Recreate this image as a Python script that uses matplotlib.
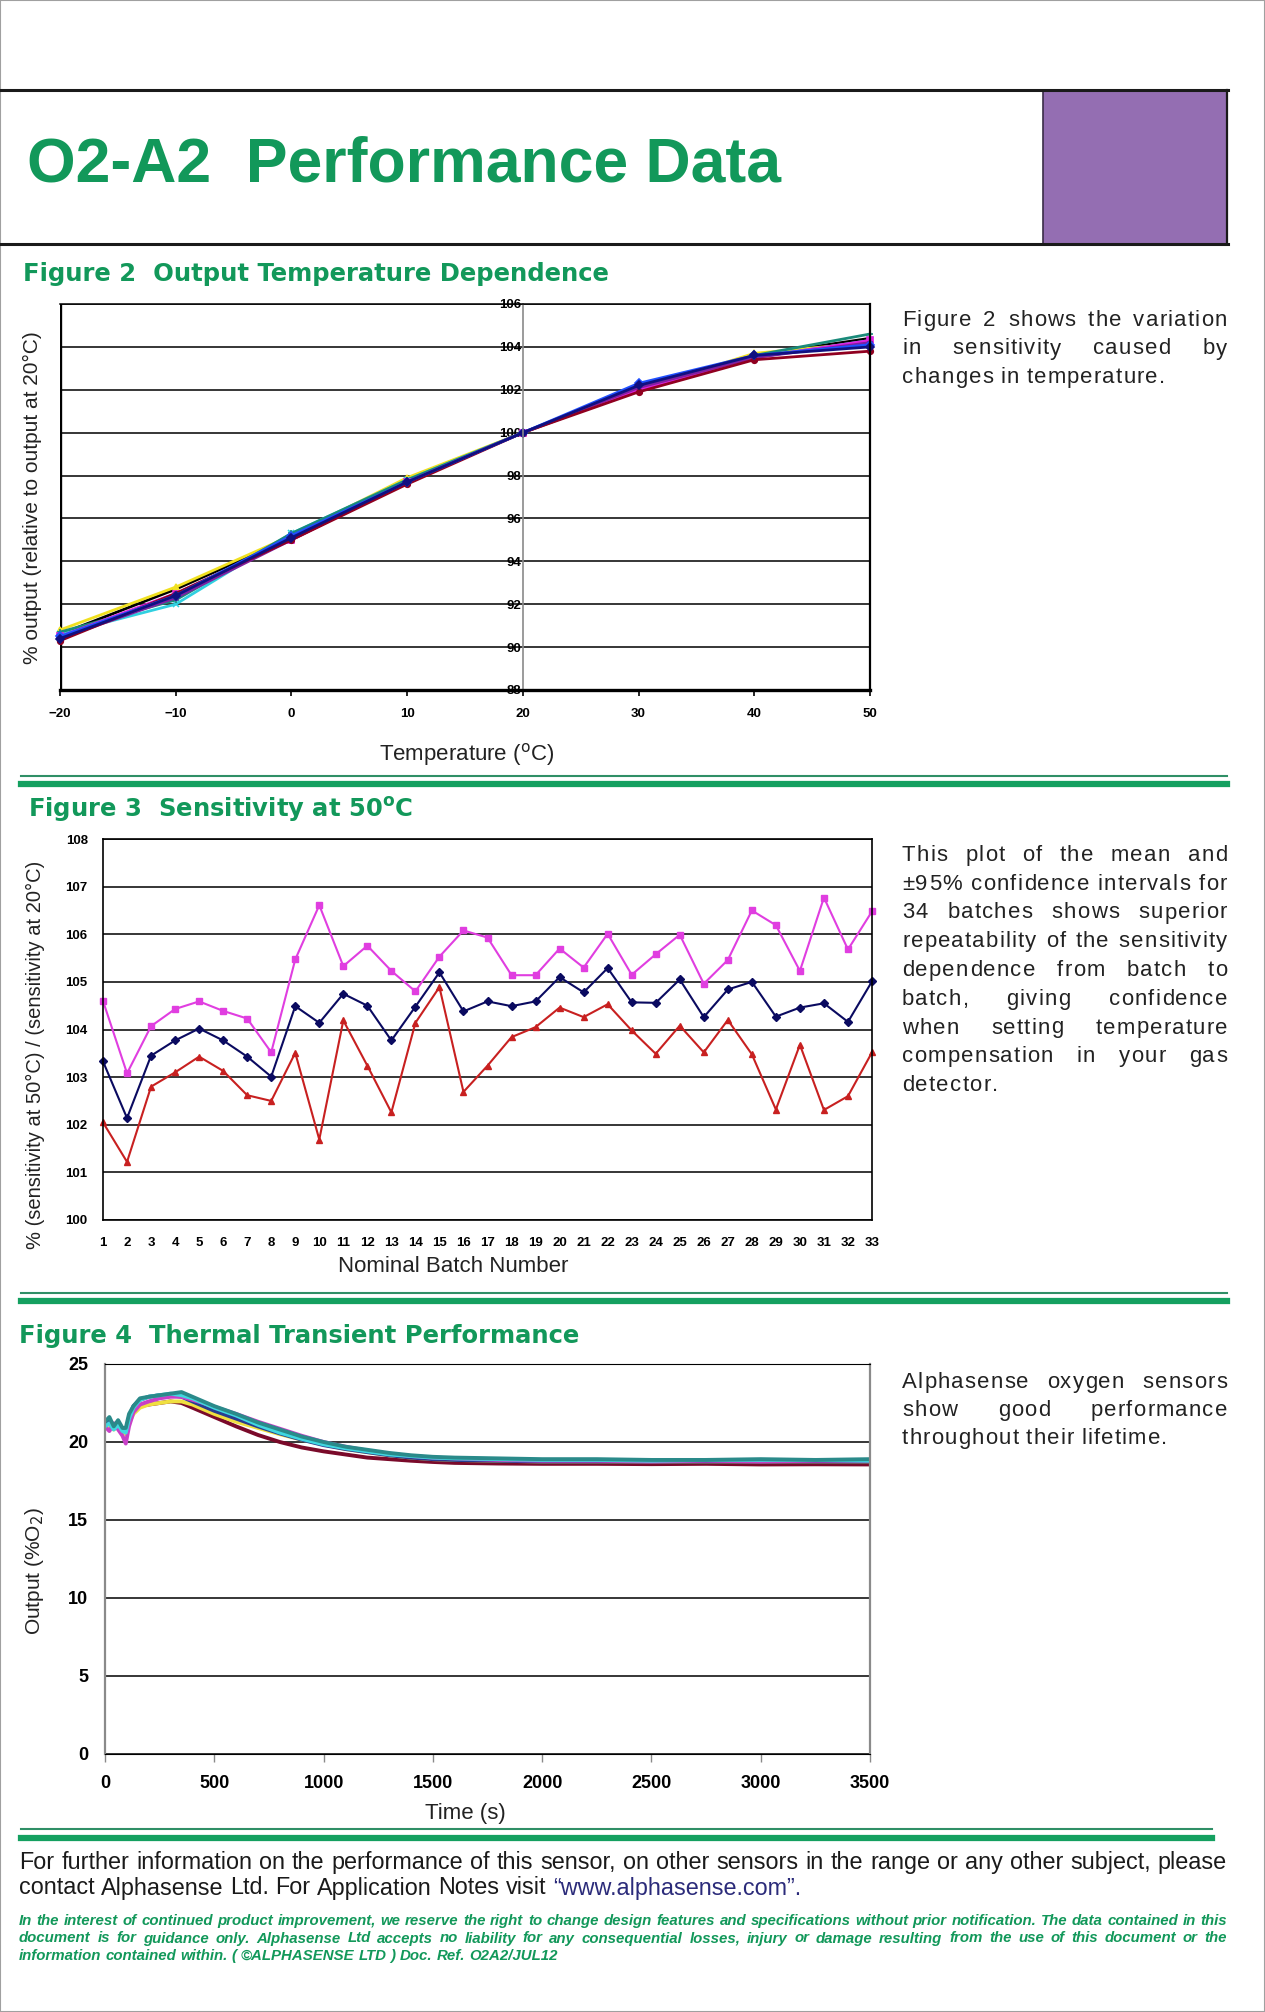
""" O2-A2 performance data sheet page """

import matplotlib
matplotlib.use("Agg")
import matplotlib.pyplot as plt
from matplotlib.font_manager import FontProperties
from matplotlib.lines import Line2D
from matplotlib.patches import Rectangle


#:::: Data
#:::::::::
# Figure 2: output vs temperature, one list per sensor
temps = [-20, -10, 0, 10, 20, 30, 40, 50]
out_black = [90.6, 92.7, 95.1, 97.8, 100, 102.1, 103.6, 104.4]
out_yellow = [90.8, 92.8, 95.2, 97.9, 100, 102.0, 103.7, 104.2]
out_cyan = [90.6, 92.0, 95.3, 97.8, 100, 102.2, 103.5, 104.3]
out_teal = [90.7, 92.2, 95.3, 97.8, 100, 102.0, 103.6, 104.6]
out_magenta = [90.5, 92.5, 95.0, 97.7, 100, 102.0, 103.5, 104.3]
out_purple = [90.4, 92.3, 95.0, 97.7, 100, 102.1, 103.5, 104.2]
out_red = [90.3, 92.5, 95.0, 97.6, 100, 101.9, 103.4, 103.8]
out_blue = [90.5, 92.4, 95.2, 97.7, 100, 102.3, 103.6, 104.1]
out_navy = [90.4, 92.4, 95.1, 97.7, 100, 102.2, 103.6, 104.0]

# Figure 3: sensitivity at 50C, mean and +-95% per batch
batches = list(range(1, 34))
sens_upper = [104.6, 103.08, 104.07, 104.43, 104.59, 104.39, 104.23, 103.52, 105.47, 106.61,
              105.33, 105.76, 105.23, 104.80, 105.53, 106.08, 105.93, 105.14, 105.14, 105.70,
              105.30, 106.01, 105.15, 105.58, 105.99, 104.96, 105.46, 106.50, 106.19, 105.23,
              106.77, 105.68, 106.48]
sens_mean = [103.33, 102.14, 103.45, 103.77, 104.02, 103.77, 103.43, 103.01, 104.49, 104.14,
             104.75, 104.50, 103.77, 104.48, 105.20, 104.38, 104.59, 104.49, 104.59, 105.10,
             104.78, 105.29, 104.57, 104.56, 105.05, 104.26, 104.84, 105.00, 104.27, 104.46,
             104.55, 104.16, 105.01]
sens_lower = [102.05, 101.22, 102.80, 103.10, 103.43, 103.13, 102.62, 102.50, 103.51, 101.69,
              104.19, 103.24, 102.26, 104.14, 104.89, 102.69, 103.24, 103.84, 104.05, 104.46,
              104.26, 104.53, 103.98, 103.49, 104.08, 103.52, 104.20, 103.48, 102.32, 103.68,
              102.31, 102.60, 103.52]

# Figure 4: thermal transient, one list per sensor
time_s = [0, 20, 40, 60, 80, 95, 110, 130, 160, 200, 250, 300, 350, 400, 450, 500, 600, 700,
          800, 900, 1000, 1100, 1200, 1300, 1400, 1500, 1600, 1800, 2000, 2250, 2500, 2750,
          3000, 3250, 3500]
o2_red = [21.0, 21.3, 20.9, 21.1, 20.7, 20.6, 21.3, 21.9, 22.3, 22.4, 22.5, 22.6, 22.5, 22.2,
          21.9, 21.6, 21.0, 20.45, 20.0, 19.65, 19.4, 19.2, 19.0, 18.9, 18.8, 18.72, 18.66,
          18.62, 18.6, 18.6, 18.58, 18.6, 18.56, 18.57, 18.56]
o2_yellow = [20.9, 21.1, 20.8, 21.0, 20.6, 20.5, 21.2, 21.8, 22.2, 22.4, 22.5, 22.6, 22.6, 22.4,
             22.1, 21.8, 21.3, 20.9, 20.5, 20.15, 19.85, 19.55, 19.35, 19.15, 19.0, 18.9, 18.85,
             18.8, 18.75, 18.75, 18.75, 18.75, 18.75, 18.75, 18.75]
o2_navy = [21.2, 21.4, 21.0, 21.2, 20.8, 20.7, 21.6, 22.3, 22.7, 22.9, 23.0, 23.0, 22.9, 22.6,
           22.3, 22.0, 21.5, 21.0, 20.55, 20.15, 19.8, 19.55, 19.35, 19.15, 19.0, 18.9, 18.85,
           18.8, 18.75, 18.75, 18.75, 18.75, 18.75, 18.75, 18.75]
o2_magenta = [21.0, 20.7, 21.2, 20.8, 20.4, 19.9, 21.0, 21.9, 22.4, 22.6, 22.8, 22.9, 22.9, 22.7,
              22.5, 22.25, 21.8, 21.3, 20.85, 20.4, 20.0, 19.7, 19.45, 19.25, 19.1, 19.0, 18.95,
              18.85, 18.8, 18.8, 18.75, 18.8, 18.75, 18.8, 18.8]
o2_cyan = [21.0, 21.2, 20.8, 21.1, 20.7, 20.6, 21.5, 22.2, 22.7, 22.9, 23.0, 23.1, 23.0, 22.8,
           22.5, 22.2, 21.7, 21.1, 20.6, 20.2, 19.85, 19.6, 19.4, 19.2, 19.1, 19.0, 18.95,
           18.9, 18.85, 18.85, 18.8, 18.85, 18.85, 18.85, 18.8]
o2_teal = [21.3, 21.6, 21.0, 21.4, 20.9, 20.9, 21.8, 22.3, 22.8, 22.9, 23.0, 23.1, 23.2, 22.9,
           22.6, 22.3, 21.8, 21.25, 20.8, 20.35, 20.0, 19.7, 19.5, 19.3, 19.15, 19.05, 19.0,
           18.95, 18.9, 18.9, 18.85, 18.85, 18.9, 18.85, 18.9]

fig2_ticks_y = list(range(88, 107, 2))
fig2_ticks_x = list(range(-20, 51, 10))
fig3_ticks_y = list(range(100, 109))
fig4_ticks_y = list(range(0, 26, 5))
fig4_ticks_x = list(range(0, 3501, 500))

title = "O2-A2  Performance Data"
fig2_text = ["Figure 2 shows the variation",
             "in sensitivity caused by",
             "changes in temperature."]
fig3_text = ["This plot of the mean and",
             "\u00b195% confidence intervals for",
             "34 batches shows superior",
             "repeatability of the sensitivity",
             "dependence from batch to",
             "batch, giving confidence",
             "when setting temperature",
             "compensation in your gas",
             "detector."]
fig4_text = ["Alphasense oxygen sensors",
             "show good performance",
             "throughout their lifetime."]
footer_text = ["For further information on the performance of this sensor, on other sensors in the range or any other subject, please",
               "contact Alphasense Ltd. For Application Notes visit \u201cwww.alphasense.com\u201d."]
disclaimer = ["In the interest of continued product improvement, we reserve the right to change design features and specifications without prior notification. The data contained in this",
              "document is for guidance only. Alphasense Ltd accepts no liability for any consequential losses, injury or damage resulting from the use of this document or the",
              "information contained within. ( \u00a9ALPHASENSE LTD ) Doc. Ref.  O2A2/JUL12"]


#:::: Page setup
#:::::::::::::::
W, H = 1265, 2012
GREEN = '#12985a'
SANS = ['Liberation Sans', 'DejaVu Sans']
plt.rcParams['font.family'] = SANS

fig = plt.figure(figsize=(W / 100, H / 100), dpi=100)
fig.patch.set_facecolor('white')
renderer = fig.canvas.get_renderer()


def fx(x):
    return x / W


def fy(y):
    return 1 - y / H


def rect(l, t, r, b):
    return [l / W, 1 - b / H, (r - l) / W, (b - t) / H]


def hline(x0, x1, y, lw, color):
    fig.add_artist(Line2D([fx(x0), fx(x1)], [fy(y), fy(y)], lw=lw, color=color))


def adv(s, prop):
    # advance width in pixels, measured between two bars
    bar = renderer.get_text_width_height_descent('||', prop, ismath=False)[0]
    w = renderer.get_text_width_height_descent('|' + s + '|', prop, ismath=False)[0]
    return w - bar


def word_width(word, prop, track):
    if track == 0:
        return adv(word, prop)
    return sum(adv(c, prop) for c in word) + track * (len(word) - 1)


def line_width(line, prop, track):
    words = line.split()
    space = adv(' ', prop) + track
    return sum(word_width(w, prop, track) for w in words) + space * (len(words) - 1)


def fit_size(line, target, track=0.0, **kw):
    # font size at which a line fills the column with normal spacing
    ref = FontProperties(size=10, **kw)
    n = len(line) - 1
    w10 = line_width(line, ref, 0.0)
    return 10 * (target - track * n) / w10


def draw_word(x, y, word, prop, track, color):
    if track == 0:
        fig.text(fx(x), fy(y), word, fontproperties=prop, color=color, va='baseline')
        return
    for c in word:
        fig.text(fx(x), fy(y), c, fontproperties=prop, color=color, va='baseline')
        x += adv(c, prop) + track


def para(lines, x0, x1, y0, dy, prop, color, track=0.0, colors=None):
    """ justified paragraph, last line left aligned """
    colors = colors or {}
    space = adv(' ', prop) + track
    for i, line in enumerate(lines):
        words = line.split()
        widths = [word_width(w, prop, track) for w in words]
        if i < len(lines) - 1 and len(words) > 1:
            gap = (x1 - x0 - sum(widths)) / (len(words) - 1)
        else:
            gap = space
        x = x0
        for w, wd in zip(words, widths):
            draw_word(x, y0 + i * dy, w, prop, track, colors.get(w, color))
            x += wd + gap


#:::: Page frame and header
#::::::::::::::::::::::::::
fig.add_artist(Rectangle((0, 0), 1, 1, transform=fig.transFigure, fill=False,
                         edgecolor='#a0a0a0', lw=1.5))
fig.add_artist(Rectangle((fx(1043), fy(244)), fx(1227) - fx(1043), fy(90) - fy(244),
                         transform=fig.transFigure, facecolor='#946eb2',
                         edgecolor='#3b2c48', lw=1.2))
hline(0, 1228, 90, 2.2, '#1a1a1a')
hline(0, 1228, 244, 2.2, '#1a1a1a')
fig.add_artist(Line2D([fx(1227), fx(1227)], [fy(90), fy(244)], lw=1.6, color='#1a1a1a'))

fig.text(fx(27), fy(182), title, fontsize=45, weight='bold', color=GREEN,
         family='Liberation Sans', va='baseline')

head_font = dict(fontsize=17.5, weight='bold', color=GREEN, family='DejaVu Sans', va='baseline')
fig.text(fx(23), fy(281), "Figure 2  Output Temperature Dependence", **head_font)
fig.text(fx(28), fy(817), "Figure 3  Sensitivity at 50$^{\\mathbf{o}}$C", **head_font)
fig.text(fx(19), fy(1343), "Figure 4  Thermal Transient Performance", **head_font)

# green separators
for y_thin, y_thick, x_end in [(776, 784, 1227), (1293, 1301, 1227), (1829, 1838, 1212)]:
    hline(21, x_end, y_thin, 1.5, '#2f8f66')
    hline(21, x_end, y_thick, 4.5, '#14a060')


#:::: Figure 2
#:::::::::::::
ax2 = fig.add_axes(rect(60, 304, 870, 690))
ax2.set_xlim(-20, 50)
ax2.set_ylim(88, 106)
ax2.set_yticks(fig2_ticks_y)
ax2.set_xticks(fig2_ticks_x)
ax2.grid(axis='y', color='black', lw=1.1)
ax2.grid(axis='x', visible=False)
ax2.spines['left'].set_position(('data', 20))
ax2.spines['left'].set_color('#8a8a8a')
ax2.spines['left'].set_linewidth(1.2)
ax2.spines['bottom'].set_linewidth(2.4)
ax2.spines['right'].set_linewidth(1.6)
ax2.spines['top'].set_linewidth(1.1)
ax2.axvline(-20, color='black', lw=2.4, zorder=1)
ax2.tick_params(axis='y', length=0, pad=1, labelsize=9.5)
ax2.tick_params(axis='x', direction='out', length=4, width=1.2, pad=9, labelsize=9.5)
for lab in ax2.get_xticklabels() + ax2.get_yticklabels():
    lab.set_fontweight('bold')

fig2_series = [
    (out_black, 'black', 'None'),
    (out_yellow, '#f0e020', '^'),
    (out_cyan, '#30d0e0', 'x'),
    (out_teal, '#1a8a7a', '+'),
    (out_magenta, '#e020e0', 's'),
    (out_purple, '#8020a0', '*'),
    (out_red, '#900020', 'o'),
    (out_blue, '#2050ff', 'D'),
    (out_navy, '#101080', 'D'),
]
for vals, col, mk in fig2_series:
    ax2.plot(temps, vals, color=col, lw=2.0, marker=mk, ms=4, mew=1.2, clip_on=False)

fig.text(fx(32), fy(498), "% output (relative to output at 20\u00b0C)", rotation=90,
         ha='center', va='center', fontsize=15, color='#222222')
fig.text(fx(467), fy(754), "Temperature ($^{\\mathrm{o}}$C)", ha='center', va='center',
         fontsize=16, color='#222222')


#:::: Figure 3
#:::::::::::::
ax3 = fig.add_axes(rect(103, 839, 872, 1220))
ax3.set_xlim(1, 33)
ax3.set_ylim(100, 108)
ax3.set_yticks(fig3_ticks_y)
ax3.set_xticks(batches)
ax3.grid(axis='y', color='black', lw=1.1)
for s in ax3.spines.values():
    s.set_linewidth(1.2)
ax3.tick_params(axis='x', length=0, pad=12, labelsize=9.5)
ax3.tick_params(axis='y', length=0, pad=11, labelsize=9.5)
for lab in ax3.get_xticklabels() + ax3.get_yticklabels():
    lab.set_fontweight('bold')

ax3.plot(batches, sens_upper, color='#e03ee0', lw=1.5, marker='s', ms=4.5, clip_on=False)
ax3.plot(batches, sens_mean, color='#0a0a60', lw=1.5, marker='D', ms=3.8, clip_on=False)
ax3.plot(batches, sens_lower, color='#c82020', lw=1.5, marker='^', ms=4.5, clip_on=False)

fig.text(fx(35), fy(1055), "% (sensitivity at 50\u00b0C) / (sensitivity at 20\u00b0C)", rotation=90,
         ha='center', va='center', fontsize=14.5, color='#222222')
fig.text(fx(453), fy(1266), "Nominal Batch Number", ha='center', va='center',
         fontsize=16, color='#222222')


#:::: Figure 4
#:::::::::::::
ax4 = fig.add_axes(rect(105, 1364, 870, 1754))
ax4.set_xlim(0, 3500)
ax4.set_ylim(0, 25)
ax4.set_yticks(fig4_ticks_y)
ax4.set_xticks(fig4_ticks_x)
ax4.grid(axis='y', color='black', lw=1.1)
ax4.spines['left'].set_color('#8a8a8a')
ax4.spines['right'].set_color('#8a8a8a')
ax4.spines['left'].set_linewidth(1.6)
ax4.spines['right'].set_linewidth(1.6)
ax4.tick_params(axis='x', direction='out', length=6, width=1.0, color='#8a8a8a', pad=9, labelsize=13)
ax4.tick_params(axis='y', length=0, pad=12, labelsize=13)
for lab in ax4.get_xticklabels() + ax4.get_yticklabels():
    lab.set_fontweight('bold')

for vals, col in [(o2_red, '#7a0a2a'), (o2_yellow, '#f0e040'), (o2_navy, '#283c90'),
                  (o2_magenta, '#c840c8'), (o2_cyan, '#40d8e0'), (o2_teal, '#2a8a8a')]:
    ax4.plot(time_s, vals, color=col, lw=2.8)

fig.text(fx(35), fy(1571), "Output (%O$_2$)", rotation=90, ha='center', va='center',
         fontsize=15, color='#222222')
fig.text(fx(465), fy(1814), "Time (s)", ha='center', va='center', fontsize=16, color='#222222')


#:::: Side text and footer
#:::::::::::::::::::::::::
TRACK = 1.2
side_size = fit_size("repeatability of the sensitivity", 322, TRACK, family=SANS)
side = FontProperties(family=SANS, size=side_size)
para(fig2_text, 902, 1227, 326, 28.5, side, '#222222', track=TRACK)
para(fig3_text, 902, 1227, 861, 28.75, side, '#222222', track=TRACK)
para(fig4_text, 902, 1227, 1388, 28.0, side, '#222222', track=TRACK)

foot = FontProperties(family=SANS, size=fit_size(footer_text[0], 1200, family=SANS))
para(footer_text, 19, 1227, 1869, 25.5, foot, '#1a1a1a',
     colors={'\u201cwww.alphasense.com\u201d.': '#2b2b7a'})

small_size = fit_size(disclaimer[0], 1200, family=SANS, weight='bold', style='italic')
small = FontProperties(family=SANS, size=small_size, weight='bold', style='italic')
para(disclaimer, 19, 1227, 1925, 17.5, small, GREEN)

fig.savefig('out.png', dpi=100)
